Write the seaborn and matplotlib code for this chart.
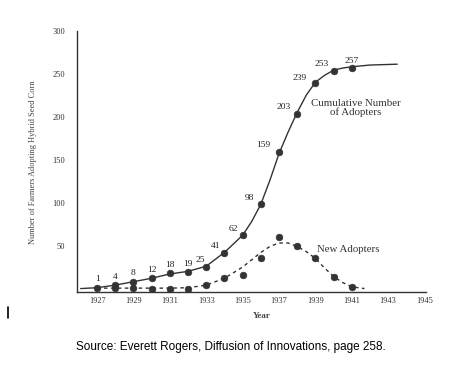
import matplotlib
matplotlib.use("Agg")
import matplotlib.pyplot as plt
import seaborn as sns
from matplotlib.lines import Line2D

sns.set_style("white")
plt.rcParams['font.family'] = ['Liberation Serif', 'DejaVu Serif']

# cumulative adopters (labelled points)
years = [1927, 1928, 1929, 1930, 1931, 1932, 1933, 1934, 1935, 1936, 1937, 1938, 1939, 1940, 1941]
cumulative = [1, 4, 8, 12, 18, 19, 25, 41, 62, 98, 159, 203, 239, 253, 257]

# new adopters (points)
new_years = [1928, 1929, 1930, 1931, 1932, 1933, 1934, 1935, 1936, 1937, 1938, 1939, 1940, 1941]
new_adopters = [1, 1, 0, 0, 0, 4, 12, 16, 35, 60, 49, 36, 13, 2]

# smooth trend lines
cum_curve_years = [1926.1, 1927, 1928, 1929, 1930, 1931, 1932, 1933, 1934, 1935, 1935.5, 1936,
                   1936.5, 1937, 1937.5, 1938, 1938.5, 1939, 1939.5, 1940, 1940.5, 1941, 1942, 1943.5]
cum_curve_vals = [0, 1, 4, 8, 12, 17, 20, 26, 42, 62, 78, 98, 126, 157, 182, 205, 225, 240,
                  248, 254, 256.5, 258, 260, 261]
new_curve_years = [1927, 1928, 1929, 1930, 1931, 1932, 1933, 1934, 1935, 1936, 1936.5, 1937,
                   1937.5, 1938, 1938.5, 1939, 1939.5, 1940, 1940.5, 1941, 1941.7]
new_curve_vals = [0.5, 0.5, 0.5, 0.5, 0.5, 1, 4, 12, 25, 42, 49, 53, 53, 49, 43, 35, 24, 14, 7, 2, 0]

label_offsets = [(0, 6), (0, 6), (0, 6), (0, 6), (0, 6), (0, 6), (-4, 5), (-6, 5), (-7, 4.5),
                 (-8, 4.5), (-11.5, 5), (-9.5, 5), (-11, 3.5), (-8.5, 5), (0, 5)]

ink = "#333333"

fig = plt.figure(figsize=(4.67, 3.65), dpi=100)
ax = fig.add_axes([0.165, 0.2, 0.748, 0.716])

sns.lineplot(x=cum_curve_years, y=cum_curve_vals, ax=ax, color=ink, lw=1.0)
sns.lineplot(x=new_curve_years, y=new_curve_vals, ax=ax, color=ink, lw=1.0,
             linestyle=(0, (2.5, 2.5)))
sns.scatterplot(x=years, y=cumulative, ax=ax, color=ink, s=24, edgecolor=ink, zorder=3)
sns.scatterplot(x=new_years, y=new_adopters, ax=ax, color=ink, s=24, edgecolor=ink, zorder=3)

for x, y, off in zip(years, cumulative, label_offsets):
    ax.annotate(str(y), (x, y), xytext=off, textcoords='offset points',
                ha='center', va='center', fontsize=6.8, color='#222222')

ax.text(1941.2, 210, "Cumulative Number\nof Adopters", ha='center', va='center',
        fontsize=7.8, color='#333333', linespacing=0.95)
ax.text(1940.8, 45, "New Adopters", ha='center', va='center', fontsize=7.8, color='#333333')

ax.set_xlim(1925.9, 1945.1)
ax.set_ylim(-4, 300)
ax.set_xticks(range(1927, 1946, 2))
ax.set_yticks([50, 100, 150, 200, 250, 300])
ax.tick_params(axis='x', direction='in', length=3, width=0.8, pad=3.5, labelsize=6, colors=ink)
ax.tick_params(axis='y', direction='in', length=6, width=0.8, pad=8.5, labelsize=6, colors=ink)
sns.despine(ax=ax)
for s in ['left', 'bottom']:
    ax.spines[s].set_color(ink)
    ax.spines[s].set_linewidth(1.0)

ax.set_xlabel("Year", fontsize=6.5, fontweight='bold', color='#444444')
ax.xaxis.set_label_coords(0.53, -0.078)
ax.set_ylabel("Number of Farmers Adopting Hybrid Seed Corn", fontsize=6, color='#444444')
ax.yaxis.label.set_va('center')
ax.yaxis.set_label_coords(-0.126, 0.497)

fig.text(0.495, 0.05, "Source: Everett Rogers, Diffusion of Innovations, page 258.",
         ha='center', va='center', fontsize=8.5, family='Liberation Sans', color='black')
fig.add_artist(Line2D([0.018, 0.018], [0.129, 0.159], color='black', lw=1.2))

fig.savefig("out.png", dpi=100)
